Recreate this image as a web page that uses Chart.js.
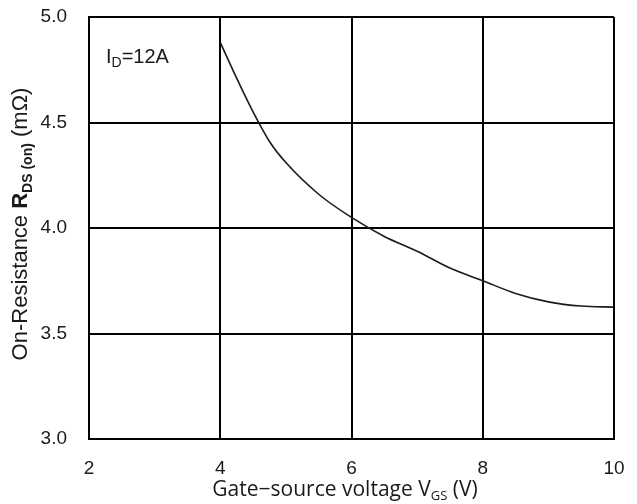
<!DOCTYPE html>
<html>
<head>
<meta charset="utf-8">
<script src="https://cdn.jsdelivr.net/npm/chart.js@4"></script>
<style>
  body { margin: 0; background: #fff; }
  #wrap { width: 637px; height: 504px; }
</style>
</head>
<body>
<div id="wrap"><canvas id="chart-rds"></canvas></div>
<script>
const gateVoltage = [4, 4.25, 4.5, 4.75, 5, 5.5, 6, 6.5, 7, 7.5, 8, 8.5, 9, 9.5, 10];
const onResistance = [4.88, 4.71, 4.55, 4.41, 4.31, 4.16, 4.05, 3.96, 3.89, 3.81, 3.75, 3.69, 3.65, 3.63, 3.625];
const xTicks = [2, 4, 6, 8, 10];
const yTicks = [3.0, 3.5, 4.0, 4.5, 5.0];

const tickFont = { family: "Liberation Sans", size: 19 };

// draws text runs with subscripts, returns total width
function drawRuns(ctx, runs, x, y, measureOnly) {
  let cx = x;
  runs.forEach((r) => {
    ctx.font = r.font;
    const dy = r.sub ? r.sub : 0;
    if (!measureOnly) ctx.fillText(r.text, cx, y + dy);
    cx += ctx.measureText(r.text).width;
  });
  return cx - x;
}

// keep the plot box fixed, labels may hang outside it
function noPad(axis) {
  axis.paddingTop = 0;
  axis.paddingBottom = 0;
  axis.paddingLeft = 0;
  axis.paddingRight = 0;
}

Chart.register({
  id: "labels",
  afterDraw: function (chart) {
    const ctx = chart.ctx;
    const area = chart.chartArea;
    ctx.save();
    ctx.fillStyle = "#1a1a1a";
    ctx.textBaseline = "alphabetic";
    ctx.textAlign = "left";

    // drain current label in the corner
    const idRuns = [
      { text: "I", font: "20px 'Liberation Sans'" },
      { text: "D", font: "14px 'Liberation Sans'", sub: 4 },
      { text: "=12A", font: "20px 'Liberation Sans'" },
    ];
    drawRuns(ctx, idRuns, area.left + 17, 63);

    // x axis title
    const xRuns = [
      { text: "Gate\u2212source voltage V", font: "21px 'Open Sans'" },
      { text: "GS", font: "13px 'Open Sans'", sub: 4 },
      { text: " (V)", font: "21px 'Open Sans'" },
    ];
    const xw = drawRuns(ctx, xRuns, 0, 0, true);
    drawRuns(ctx, xRuns, 345 - xw / 2, 496);

    // y axis title, rotated
    const yRuns = [
      { text: "On-Resistance ", font: "22px 'Liberation Sans'" },
      { text: "R", font: "bold 22px 'Liberation Sans'" },
      { text: "DS (on)", font: "bold 14px 'Liberation Sans'", sub: 5 },
      { text: " (m\u03a9)", font: "22px 'Liberation Sans'" },
    ];
    const yw = drawRuns(ctx, yRuns, 0, 0, true);
    ctx.translate(27, 224);
    ctx.rotate(-Math.PI / 2);
    drawRuns(ctx, yRuns, -yw / 2, 0);
    ctx.restore();
  },
});

const chartRds = new Chart(document.getElementById("chart-rds").getContext("2d"), {
  type: "scatter",
  data: {
    datasets: [
      {
        data: gateVoltage.map((v, i) => ({ x: v, y: onResistance[i] })),
        showLine: true,
        borderColor: "#1a1a1a",
        borderWidth: 1.6,
        pointRadius: 0,
        cubicInterpolationMode: "monotone",
      },
    ],
  },
  options: {
    responsive: true,
    maintainAspectRatio: false,
    animation: false,
    layout: { padding: { top: 17, right: 23, left: 0, bottom: 0 } },
    plugins: { legend: { display: false }, tooltip: { enabled: false } },
    scales: {
      x: {
        type: "linear",
        min: 2,
        max: 10,
        afterBuildTicks: (axis) => { axis.ticks = xTicks.map((v) => ({ value: v })); },
        afterFit: (axis) => { axis.height = 65; noPad(axis); },
        grid: { color: "#000", lineWidth: 2, drawTicks: false },
        border: { color: "#000", width: 2 },
        ticks: { color: "#1a1a1a", font: tickFont, padding: 18 },
      },
      y: {
        type: "linear",
        min: 3,
        max: 5,
        afterBuildTicks: (axis) => { axis.ticks = yTicks.map((v) => ({ value: v })); },
        afterFit: (axis) => { axis.width = 89; noPad(axis); },
        grid: { color: "#000", lineWidth: 2, drawTicks: false },
        border: { color: "#000", width: 2 },
        ticks: {
          color: "#1a1a1a",
          font: tickFont,
          padding: 22,
          callback: (v) => Number(v).toFixed(1),
        },
      },
    },
  },
});
</script>
</body>
</html>
